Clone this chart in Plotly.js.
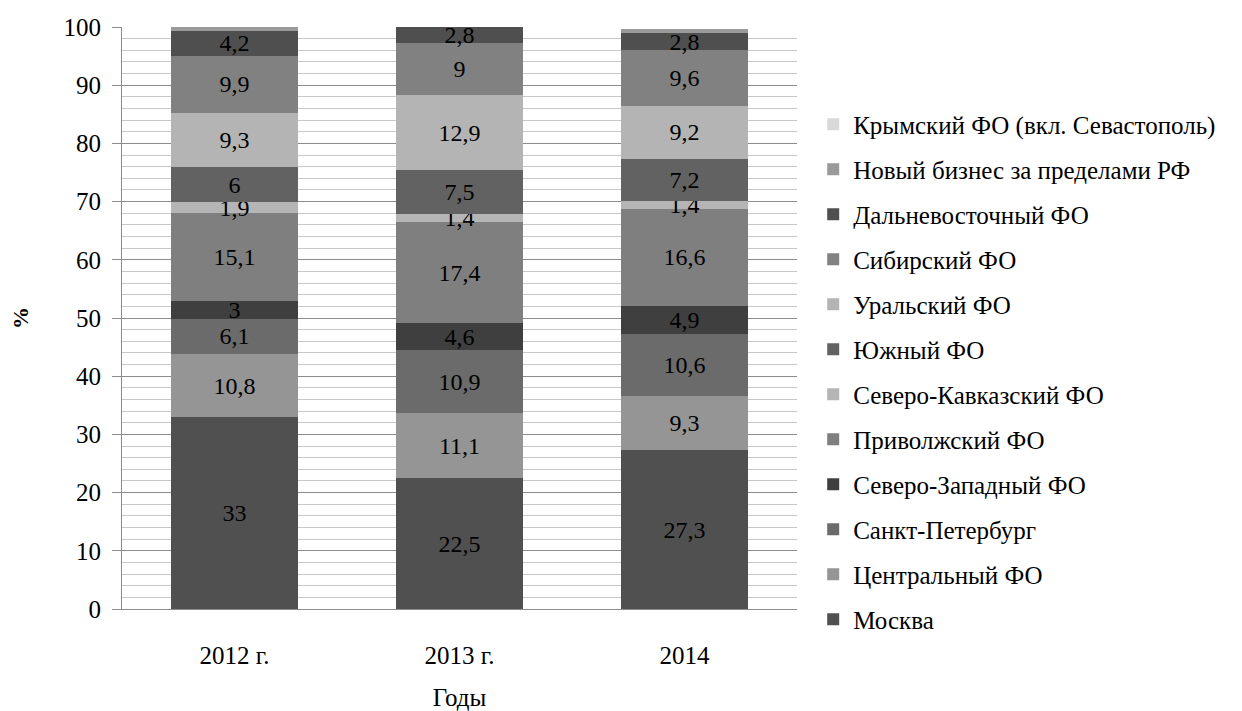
<!DOCTYPE html>
<html>
<head>
<meta charset="utf-8">
<script src="https://cdn.plot.ly/plotly-3.0.1.min.js"></script>
<style>html,body{margin:0;padding:0;background:#fff;}#chart{width:1242px;height:711px;}</style>
</head>
<body>
<div id="chart"></div>
<script>
const categories = ["2012 г.", "2013 г.", "2014"];
const seriesNames = [
  "Москва", "Центральный ФО", "Санкт-Петербург", "Северо-Западный ФО",
  "Приволжский ФО", "Северо-Кавказский ФО", "Южный ФО", "Уральский ФО",
  "Сибирский ФО", "Дальневосточный ФО", "Новый бизнес за пределами РФ",
  "Крымский ФО (вкл. Севастополь)"
];
const moskva = [33, 22.5, 27.3];
const centralny = [10.8, 11.1, 9.3];
const spb = [6.1, 10.9, 10.6];
const severoZapad = [3, 4.6, 4.9];
const privolzh = [15.1, 17.4, 16.6];
const severoKavkaz = [1.9, 1.4, 1.4];
const yuzhny = [6, 7.5, 7.2];
const uralsky = [9.3, 12.9, 9.2];
const sibirsky = [9.9, 9, 9.6];
const dalnevost = [4.2, 2.8, 2.8];
const novyBiznes = [0.8, 0, 0.8];
const krym = [0, 0, 0];
const showLabel = [true, true, true, true, true, true, true, true, true, true, false, false];

const seriesValues = [moskva, centralny, spb, severoZapad, privolzh, severoKavkaz,
  yuzhny, uralsky, sibirsky, dalnevost, novyBiznes, krym];
const colors = ["#505050", "#959595", "#6b6b6b", "#3f3f3f", "#7f7f7f", "#b5b5b5",
  "#626262", "#b4b4b4", "#818181", "#4f4f4f", "#9a9a9a", "#d9d9d9"];

const FONT = "'Liberation Serif', 'Times New Roman', Tinos, 'DejaVu Serif', serif";
const fmt = v => String(v).replace(".", ",");

const traces = seriesNames.map((name, i) => ({
  type: "bar",
  name: name,
  x: categories,
  y: seriesValues[i],
  marker: {color: colors[i], line: {width: 0}},
  text: showLabel[i] ? seriesValues[i].map(v => v > 0 ? fmt(v) : "") : seriesValues[i].map(() => ""),
  textposition: "inside",
  insidetextanchor: "middle",
  textangle: 0,
  constraintext: "none",
  textfont: {family: FONT, size: 24, color: "#000"},
  legendgroup: "g" + i,
  legendrank: seriesNames.length - i,
  hoverinfo: "skip"
}));

const layout = {
  width: 1242, height: 711,
  margin: {l: 122, r: 445, t: 27, b: 102},
  paper_bgcolor: "#fff", plot_bgcolor: "#fff",
  barmode: "stack",
  bargap: 0.435,
  font: {family: FONT, size: 25, color: "#000"},
  uniformtext: {mode: "show", minsize: 24},
  showlegend: true,
  legend: {
    x: 1.024, xanchor: "left", y: 0.872, yanchor: "top",
    traceorder: "grouped", tracegroupgap: 9.5,
    font: {family: FONT, size: 25, color: "#000"},
    itemclick: false, itemdoubleclick: false
  },
  xaxis: {
    type: "category",
    showgrid: false,
    showline: true, linecolor: "#8c8c8c", linewidth: 1,
    ticks: "", ticklabelstandoff: 24,
    tickfont: {family: FONT, size: 25, color: "#000"},
    title: {text: "Годы", font: {family: FONT, size: 25, color: "#000"}, standoff: 24},
    fixedrange: true
  },
  yaxis: {
    range: [0, 100],
    tick0: 0, dtick: 10,
    showline: true, linecolor: "#8c8c8c", linewidth: 1,
    ticks: "outside", ticklen: 9, tickcolor: "#8c8c8c",
    showgrid: true, gridcolor: "#8c8c8c", gridwidth: 1,
    minor: {dtick: 2, showgrid: true, gridcolor: "#c8c8c8", gridwidth: 1, ticks: ""},
    zeroline: false,
    tickfont: {family: FONT, size: 25, color: "#000"},
    ticklabelstandoff: 6,
    title: {text: "%", font: {family: FONT, size: 22, color: "#000", weight: "bold"}, standoff: 28},
    fixedrange: true
  },
  bargroupgap: 0
};

Plotly.newPlot("chart", traces, layout, {displayModeBar: false, staticPlot: true});
</script>
</body>
</html>
